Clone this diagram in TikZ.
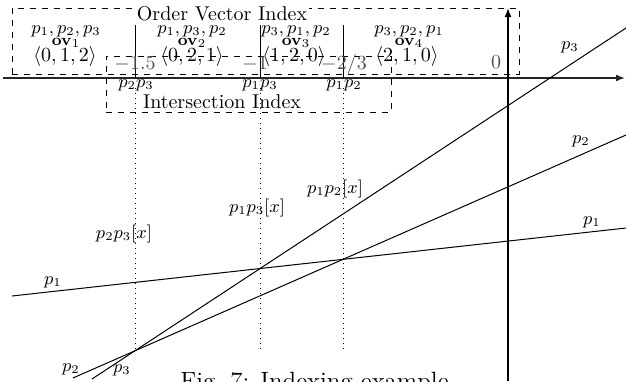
\documentclass[tikz,border=0pt]{standalone}
\usetikzlibrary{arrows.meta}
\begin{document}
\begin{tikzpicture}[x=0.5pt,y=-0.5pt,
  lbl/.style={inner sep=0pt},
  slbl/.style={inner sep=0pt,font=\small},
  boxline/.style={draw,dashed,line width=0.5pt,inner sep=0pt},
  curve/.style={line width=0.5pt},
  axis/.style={line width=0.8pt,-{Latex[length=4.5pt,width=3.5pt]}},
  tickline/.style={line width=0.5pt},
  guide/.style={dotted,line width=0.5pt},
  ticklbl/.style={inner sep=0pt,text=black!70},
  ovlbl/.style={inner sep=0pt,font=\footnotesize},
]
\useasboundingbox (0,0) rectangle (626,381);

% boxes
\node[boxline,minimum width=253.5pt,minimum height=33pt] (ovbox) at (265.5,41) {};
\node[fill=white,inner sep=1pt] (ovtitle) at (222,14) {Order Vector Index};
\node[boxline,minimum width=142.5pt,minimum height=28pt] (ixbox) at (248.5,84) {};
\node[lbl] (ixtitle) at (222,102) {Intersection Index};

% order vectors
\node[slbl] (o1p) at (66,31) {$p_1,p_2,p_3$};
\node[ovlbl] (o1n) at (66,43) {$\mathbf{ov}_1$};
\node[lbl] (o1v) at (65,56) {$\langle 0,1,2\rangle$};
\node[slbl] (o2p) at (192,31) {$p_1,p_3,p_2$};
\node[ovlbl] (o2n) at (192,43) {$\mathbf{ov}_2$};
\node[lbl] (o2v) at (192,56) {$\langle 0,2,1\rangle$};
\node[slbl] (o3p) at (296,31) {$p_3,p_1,p_2$};
\node[ovlbl] (o3n) at (296,43) {$\mathbf{ov}_3$};
\node[lbl] (o3v) at (294,56) {$\langle 1,2,0\rangle$};
\node[slbl] (o4p) at (409,31) {$p_3,p_2,p_1$};
\node[ovlbl] (o4n) at (409,43) {$\mathbf{ov}_4$};
\node[lbl] (o4v) at (407,56) {$\langle 2,1,0\rangle$};

% axes
\coordinate (xs) at (3,78);
\coordinate (xe) at (625,78);
\coordinate (ys) at (508,381);
\coordinate (ye) at (508,8);
\draw[axis,black!85] (xs) -- (xe);
\draw[axis] (ys) -- (ye);

% ticks
\coordinate (t1a) at (135,25); \coordinate (t1b) at (135,78);
\coordinate (t2a) at (260,25); \coordinate (t2b) at (260,78);
\coordinate (t3a) at (343,25); \coordinate (t3b) at (343,78);
\draw[tickline] (t1a) -- (t1b);
\draw[tickline] (t2a) -- (t2b);
\draw[tickline] (t3a) -- (t3b);
\node[ticklbl] (n15) at (135,64) {$-1.5$};
\node[ticklbl] (n1) at (255,64) {$-1$};
\node[ticklbl] (n23) at (344,64) {$-2/3$};
\node[ticklbl] (n0) at (496,62) {$0$};

% intersection index labels
\node[slbl,anchor=north] (l23) at (136,79) {$p_2p_3$};
\node[slbl,anchor=north] (l13) at (260,79) {$p_1p_3$};
\node[slbl,anchor=north] (l12) at (344,79) {$p_1p_2$};

% lines
\coordinate (p1a) at (12,296);  \coordinate (p1b) at (626,228);
\coordinate (p2a) at (73,378);  \coordinate (p2b) at (626,135);
\coordinate (p3a) at (92,379);  \coordinate (p3b) at (626,28);
\draw[curve] (p1a) -- (p1b);
\draw[curve] (p2a) -- (p2b);
\draw[curve] (p3a) -- (p3b);

% dotted guides
\coordinate (g23) at (135,350);
\coordinate (g13) at (260,350);
\coordinate (g12) at (343,350);
\draw[guide] (135,88) -- (g23);
\draw[guide] (260,88) -- (g13);
\draw[guide] (343,88) -- (g12);

% intersection labels
\node[slbl] (x23) at (124,234) {$p_2p_3[x]$};
\node[slbl] (x13) at (257,208) {$p_1p_3[x]$};
\node[slbl] (x12) at (335,189) {$p_1p_2[x]$};

% line labels
\node[slbl] (r3) at (570,47) {$p_3$};
\node[slbl] (r2) at (581,141) {$p_2$};
\node[slbl] (r1) at (592,222) {$p_1$};
\node[slbl] (q1) at (53,282) {$p_1$};
\node[slbl] (q2) at (71,369) {$p_2$};
\node[slbl] (q3) at (122,370) {$p_3$};

% caption (cut by the page edge)
\node[lbl,anchor=base west,font=\fontsize{12.5}{14}\selectfont] (cap) at (180,389) {Fig.~7: Indexing example};
\end{tikzpicture}
\end{document}
